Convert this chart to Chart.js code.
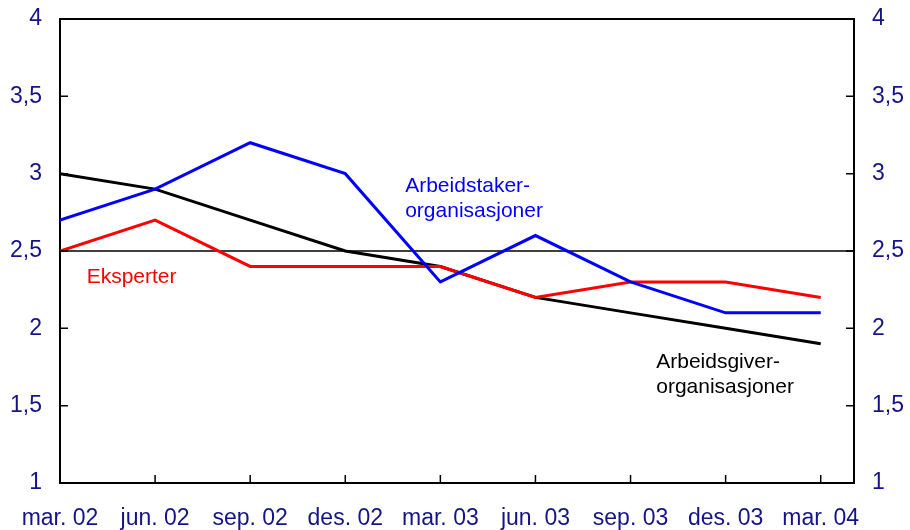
<!DOCTYPE html>
<html>
<head>
<meta charset="utf-8">
<script src="https://cdn.jsdelivr.net/npm/chart.js@4.4.0/dist/chart.umd.min.js"></script>
<style>
  body { margin: 0; background: #fff; }
  #wrap { width: 910px; height: 530px; }
</style>
</head>
<body>
<div id="wrap"><canvas id="chart"></canvas></div>
<script>
// Quarters on the x axis
const quarters = ['mar. 02', 'jun. 02', 'sep. 02', 'des. 02', 'mar. 03', 'jun. 03', 'sep. 03', 'des. 03', 'mar. 04'];
// Expected inflation, by group
const arbeidstaker = [2.7, 2.9, 3.2, 3.0, 2.3, 2.6, 2.3, 2.1, 2.1];
const eksperter = [2.5, 2.7, 2.4, 2.4, 2.4, 2.2, 2.3, 2.3, 2.2];
const arbeidsgiver = [3.0, 2.9, 2.7, 2.5, 2.4, 2.2, 2.1, 2.0, 1.9];
const yTicks = [1, 1.5, 2, 2.5, 3, 3.5, 4];
const refLine = 2.5;

const axisColor = '#141488';
const tickFont = { family: 'Liberation Sans, Arial, sans-serif', size: 23 };

function toPoints(arr) {
    return arr.map((v, i) => ({ x: i, y: v }));
}

// inward ticks, frame top and the 2.5 line
const framePlugin = {
    id: 'frame',
    afterDatasetsDraw(chart) {
        const ctx = chart.ctx;
        const a = chart.chartArea;
        const x = chart.scales.x, y = chart.scales.y;
        ctx.save();
        ctx.strokeStyle = '#000';
        ctx.lineWidth = 2;
        ctx.beginPath();
        ctx.moveTo(a.left, a.top);
        ctx.lineTo(a.right, a.top);
        ctx.stroke();
        ctx.lineWidth = 1.5;
        ctx.beginPath();
        yTicks.forEach(v => {
            const py = y.getPixelForValue(v);
            ctx.moveTo(a.left, py); ctx.lineTo(a.left + 8, py);
            ctx.moveTo(a.right, py); ctx.lineTo(a.right - 8, py);
        });
        quarters.forEach((q, i) => {
            if (i === 0) return;
            const px = x.getPixelForValue(i);
            ctx.moveTo(px, a.bottom); ctx.lineTo(px, a.bottom - 8);
        });
        ctx.stroke();
        ctx.restore();
    },
    beforeDatasetsDraw(chart) {
        const ctx = chart.ctx;
        const a = chart.chartArea;
        const py = chart.scales.y.getPixelForValue(refLine);
        ctx.save();
        ctx.strokeStyle = '#000';
        ctx.lineWidth = 1.5;
        ctx.beginPath();
        ctx.moveTo(a.left, py);
        ctx.lineTo(a.right, py);
        ctx.stroke();
        ctx.restore();
    }
};

// series labels written in the plot (positions in axis units, first-line baseline)
const labelPlugin = {
    id: 'seriesLabels',
    afterDatasetsDraw(chart) {
        const ctx = chart.ctx;
        const x = chart.scales.x, y = chart.scales.y;
        const items = [
            { text: ['Arbeidstaker-', 'organisasjoner'], x: 3.63, y: 2.88, color: '#0000ff' },
            { text: ['Eksperter'], x: 0.28, y: 2.293, color: '#ff0000' },
            { text: ['Arbeidsgiver-', 'organisasjoner'], x: 6.27, y: 1.744, color: '#000000' }
        ];
        ctx.save();
        ctx.font = '21px Liberation Sans, Arial, sans-serif';
        ctx.textBaseline = 'alphabetic';
        ctx.textAlign = 'left';
        items.forEach(it => {
            ctx.fillStyle = it.color;
            it.text.forEach((t, k) => {
                ctx.fillText(t, x.getPixelForValue(it.x), y.getPixelForValue(it.y) + k * 25);
            });
        });
        ctx.restore();
    }
};

const yAxis = (pos, width) => ({
    position: pos,
    min: 1,
    max: 4,
    afterBuildTicks: s => { s.ticks = yTicks.map(v => ({ value: v })); },
    ticks: {
        callback: v => String(v).replace('.', ','),
        color: axisColor,
        font: tickFont,
        padding: 18
    },
    grid: { display: false, drawTicks: false },
    border: { display: true, color: '#000', width: 2 },
    afterFit: s => { s.width = width; s.paddingTop = 0; s.paddingBottom = 0; }
});

new Chart(document.getElementById('chart'), {
    type: 'line',
    data: {
        datasets: [
            { label: 'Arbeidstakerorganisasjoner', data: toPoints(arbeidstaker), borderColor: '#0000ff', borderWidth: 3, pointRadius: 0, tension: 0 },
            { label: 'Eksperter', data: toPoints(eksperter), borderColor: '#ff0000', borderWidth: 3, pointRadius: 0, tension: 0 },
            { label: 'Arbeidsgiverorganisasjoner', data: toPoints(arbeidsgiver), borderColor: '#000000', borderWidth: 3, pointRadius: 0, tension: 0 }
        ]
    },
    options: {
        responsive: true,
        maintainAspectRatio: false,
        animation: false,
        layout: { padding: { top: 19, left: 0, right: 0, bottom: 0 } },
        plugins: { legend: { display: false }, tooltip: { enabled: false } },
        scales: {
            x: {
                type: 'linear',
                min: 0,
                max: 8.35,
                afterBuildTicks: s => { s.ticks = quarters.map((q, i) => ({ value: i })); },
                ticks: {
                    callback: v => quarters[v],
                    color: axisColor,
                    font: tickFont,
                    padding: 22,
                    maxRotation: 0,
                    autoSkip: false
                },
                grid: { display: false, drawTicks: false },
                border: { display: true, color: '#000', width: 2 },
                afterFit: s => { s.height = 47; s.paddingLeft = 0; s.paddingRight = 0; }
            },
            y: yAxis('left', 60),
            y2: yAxis('right', 56)
        }
    },
    plugins: [framePlugin, labelPlugin]
});
</script>
</body>
</html>
